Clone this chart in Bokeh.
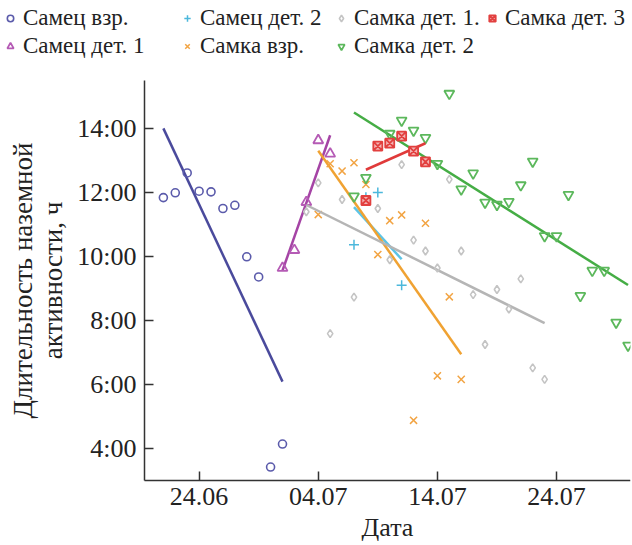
import numpy as np
import pandas as pd
from bokeh.plotting import figure
from bokeh.models import (Legend, LegendItem, FixedTicker, DatetimeTickFormatter, Range1d,
                          LinearAxis, DatetimeAxis)
from bokeh.embed import file_html
from bokeh.resources import INLINE

YEAR = "2019"

# ---- data (date "dd.mm", duration of ground activity in hours) ----
m_ad_dates = ["21.06", "22.06", "23.06", "24.06", "25.06", "26.06", "27.06", "28.06", "29.06", "30.06", "01.07"]
m_ad_vals = [11.84, 11.99, 12.61, 12.04, 12.02, 11.5, 11.6, 9.99, 9.36, 3.42, 4.14]

m_j1_dates = ["01.07", "02.07", "03.07", "04.07", "05.07"]
m_j1_vals = [9.64, 10.2, 11.7, 13.63, 13.21]

m_j2_dates = ["07.07", "08.07", "09.07", "11.07"]
m_j2_vals = [10.37, 11.85, 12.0, 9.1]

f_ad_dates = ["04.07", "05.07", "06.07", "07.07", "08.07", "09.07", "10.07", "11.07", "12.07", "13.07", "14.07", "15.07", "16.07"]
f_ad_vals = [11.31, 12.9, 12.67, 12.93, 12.25, 10.06, 11.12, 11.3, 4.88, 11.04, 6.27, 8.74, 6.16]

f_j1_dates = ["03.07", "04.07", "05.07", "06.07", "07.07", "09.07", "10.07", "11.07", "12.07", "13.07",
              "14.07", "15.07", "16.07", "17.07", "18.07", "19.07", "20.07", "21.07", "22.07", "23.07"]
f_j1_vals = [11.4, 12.3, 7.59, 11.78, 8.73, 11.5, 9.9, 12.87, 10.51, 10.17,
             9.64, 12.41, 10.17, 8.81, 7.25, 8.97, 8.36, 9.3, 6.52, 6.16]

f_j2_dates = ["07.07", "08.07", "10.07", "11.07", "12.07", "13.07", "14.07", "15.07", "16.07", "17.07", "18.07", "19.07",
              "20.07", "21.07", "22.07", "23.07", "24.07", "25.07", "26.07", "27.07", "28.07", "29.07", "30.07"]
f_j2_vals = [11.88, 12.46, 13.84, 14.25, 13.94, 13.71, 12.9, 15.09, 12.1, 12.6, 11.69, 11.62,
             11.71, 12.23, 12.97, 10.64, 10.64, 11.93, 8.77, 9.56, 9.56, 7.94, 7.22]

f_j3_dates = ["08.07", "09.07", "10.07", "11.07", "12.07", "13.07"]
f_j3_vals = [11.75, 13.45, 13.54, 13.76, 13.29, 12.96]

tick_dates = ["24.06", "04.07", "14.07", "24.07"]
y_ticks = [4, 6, 8, 10, 12, 14]
y_tick_labels = ["4:00", "6:00", "8:00", "10:00", "12:00", "14:00"]

series = [
    ("Самец взр.", m_ad_dates, m_ad_vals, "circle", "#5b5bab", "#4a4a9c"),
    ("Самец дет. 1", m_j1_dates, m_j1_vals, "triangle", "#b55bb5", "#a544a5"),
    ("Самец дет. 2", m_j2_dates, m_j2_vals, "cross", "#4cb8dc", "#5cc4e6"),
    ("Самка взр.", f_ad_dates, f_ad_vals, "x", "#f2a443", "#f0a232"),
    ("Самка дет. 1.", f_j1_dates, f_j1_vals, "diamond", "#c4c4c4", "#b5b5b5"),
    ("Самка дет. 2", f_j2_dates, f_j2_vals, "inverted_triangle", "#5cb85c", "#45ad45"),
    ("Самка дет. 3", f_j3_dates, f_j3_vals, "square_x", "#e2403f", "#e03a3a"),
]
# legend columns (each column is a small vertical legend)
legend_columns = [["Самец взр.", "Самец дет. 1"],
                  ["Самец дет. 2", "Самка взр."],
                  ["Самка дет. 1.", "Самка дет. 2"],
                  ["Самка дет. 3"]]


def to_dt(lst):
    return pd.to_datetime([s + "." + YEAR for s in lst], format="%d.%m.%Y")


FONT = "Liberation Serif"

# layout (pixels); the frame covers the whole canvas, axes are placed at fixed positions
W, H = 632, 545
BORDER_R = 2
FRAME_W = W - BORDER_R
FRAME_H = H
AXIS_X_PX = 144          # y axis, from the left
AXIS_TOP_PX = 80         # top of the y axis, from the top
AXIS_Y_PX = 480          # x axis, from the top

# visible data window of the axes
x_axis_left = to_dt(["19.06"])[0] + pd.Timedelta(hours=10)
x_end = to_dt(["30.07"])[0] + pd.Timedelta(hours=5)
Y_MIN, Y_AXIS_TOP = 3.0, 15.5

per_px = (x_end - x_axis_left) / (FRAME_W - AXIS_X_PX)
x_start = x_axis_left - per_px * AXIS_X_PX
y_per_px = (Y_AXIS_TOP - Y_MIN) / (AXIS_Y_PX - AXIS_TOP_PX)
Y_MAX = Y_AXIS_TOP + y_per_px * AXIS_TOP_PX
Y_LO = Y_MIN - y_per_px * (FRAME_H - AXIS_Y_PX)

p = figure(width=W, height=H, x_axis_type="datetime", x_axis_location=None, y_axis_location=None,
           output_backend="svg", toolbar_location=None,
           x_range=Range1d(x_start, x_end), y_range=Range1d(Y_LO, Y_MAX),
           min_border_left=0, min_border_right=BORDER_R, min_border_top=0, min_border_bottom=0)
p.outline_line_color = None
p.background_fill_color = "white"
p.border_fill_color = "white"
p.grid.visible = False

renderers = {}
for name, dts, vals, marker, mcol, lcol in series:
    x = to_dt(dts)
    # linear trend computed from the data
    xd = np.array([(t - x[0]).total_seconds() / 86400.0 for t in x])
    k, b = np.polyfit(xd, np.array(vals), 1)
    xl = [x[0], x[-1]]
    yl = [b, k * xd[-1] + b]
    p.line(xl, yl, line_color=lcol, line_width=2.5)
    if marker in ("cross", "x"):
        r = p.scatter(x, vals, marker=marker, size=10, line_color=mcol, line_width=1.5)
    elif marker == "square_x":
        r = p.scatter(x, vals, marker=marker, size=9, line_color=mcol, fill_color="#f3b3b3", line_width=1.8)
    elif marker in ("triangle", "inverted_triangle"):
        r = p.scatter(x, vals, marker=marker, size=10, line_color=mcol, fill_color=None, line_width=1.8)
    else:
        r = p.scatter(x, vals, marker=marker, size=8, line_color=mcol, fill_color=None, line_width=1.6)
    renderers[name] = r

ITEM_H = 26
GAP = 2
TOP_PAD = 5
col_x = [2, 179, 333, 484]
for cx, names in zip(col_x, legend_columns):
    n = len(names)
    h = n * ITEM_H + (n - 1) * GAP
    lg = Legend(items=[LegendItem(label=nm, renderers=[renderers[nm]]) for nm in names],
                location=(cx, FRAME_H - TOP_PAD - h), orientation="vertical",
                label_text_font=FONT, label_text_font_size="23px", label_text_color="#222222",
                glyph_width=16, glyph_height=ITEM_H, label_standoff=5, spacing=GAP,
                padding=0, margin=0, border_line_color=None, background_fill_alpha=0)
    p.add_layout(lg, "center")

# axes drawn at fixed data positions inside the frame
yax = LinearAxis(fixed_location=x_axis_left.value / 1e6)
xax = DatetimeAxis(fixed_location=Y_MIN)
p.add_layout(yax, "left")
p.add_layout(xax, "below")

xax.ticker = FixedTicker(ticks=[t.value / 1e6 for t in to_dt(tick_dates)])
xax.formatter = DatetimeTickFormatter(days="%d.%m", months="%d.%m", hours="%d.%m")
xax.bounds = (x_axis_left.value / 1e6, x_end.value / 1e6)
yax.ticker = FixedTicker(ticks=y_ticks)
yax.major_label_overrides = {t: l for t, l in zip(y_ticks, y_tick_labels)}
yax.bounds = (Y_MIN, Y_AXIS_TOP)
for ax in (xax, yax):
    ax.axis_line_color = "#333333"
    ax.axis_line_width = 1.5
    ax.major_tick_line_color = "#333333"
    ax.major_tick_line_width = 1.5
    ax.major_tick_in = 9
    ax.major_tick_out = 0
    ax.minor_tick_line_color = None
    ax.major_label_text_font = FONT
    ax.major_label_text_font_size = "26px"
    ax.major_label_text_color = "#222222"
    ax.axis_label_text_font = FONT
    ax.axis_label_text_font_style = "normal"
    ax.axis_label_text_color = "#222222"
xax.axis_label = "Дата"
xax.axis_label_text_font_size = "26px"
yax.axis_label = "Длительность наземной\nактивности, ч"
yax.axis_label_text_font_size = "27px"
yax.axis_label_text_line_height = 1.0
xax.major_label_standoff = 7
yax.major_label_standoff = 8
xax.axis_label_standoff = 5
yax.axis_label_standoff = 6

open("out.html", "w").write(file_html(p, INLINE))
